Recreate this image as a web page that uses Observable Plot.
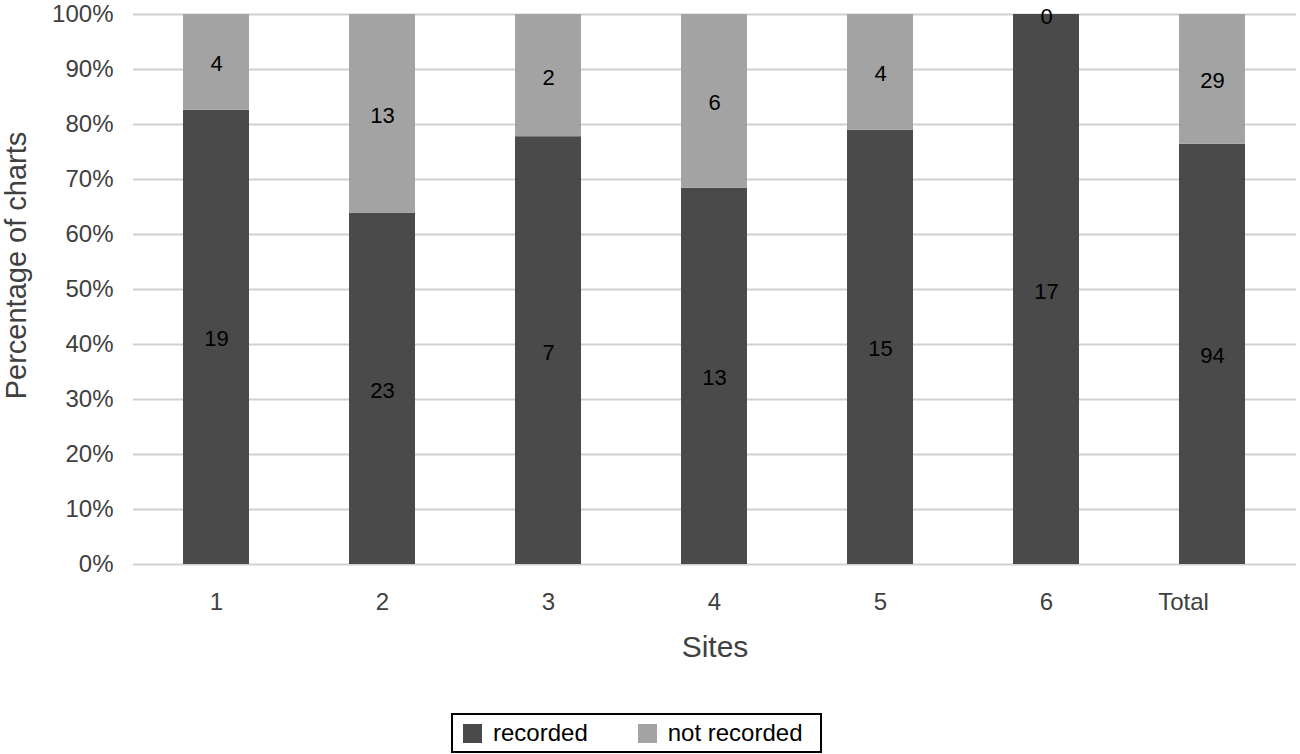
<!DOCTYPE html>
<html><head><meta charset="utf-8">
<script src="https://cdn.jsdelivr.net/npm/d3@7"></script>
<script src="https://cdn.jsdelivr.net/npm/@observablehq/plot@0.6"></script>
<style>
body{margin:0;background:#fff;font-family:"Liberation Sans",Arial,Helvetica,sans-serif;}
#wrap{position:relative;width:1300px;height:754px;overflow:hidden;}
#legend{position:absolute;left:451px;top:713px;width:367px;height:36px;border:2px solid #000;display:flex;align-items:center;font-size:24px;color:#000;}
.item{display:flex;align-items:center;}
.sw{width:19px;height:19px;display:inline-block;}
</style>
</head><body>
<div id="wrap"><div id="chart"></div><div id="legend"></div></div>
<script>
const sites = ["1","2","3","4","5","6","Total"];
const recorded = [19,23,7,13,15,17,94];
const notRecorded = [4,13,2,6,4,0,29];
const statuses = ["recorded","not recorded"];
const colors = ["#4a4a4a","#a3a3a3"];
const yTicks = [0,0.1,0.2,0.3,0.4,0.5,0.6,0.7,0.8,0.9,1];

const data = [];
sites.forEach((s,i)=>{
  data.push({site:s,status:statuses[0],count:recorded[i]});
  data.push({site:s,status:statuses[1],count:notRecorded[i]});
});

const font = '"Liberation Sans",Arial,Helvetica,sans-serif';
const chart = Plot.plot({
  width:1300, height:700,
  marginLeft:133, marginRight:4, marginTop:14, marginBottom:136,
  style:{fontFamily:font, fontSize:"24px", color:"#404040", background:"transparent"},
  x:{domain:sites, paddingInner:0.6, paddingOuter:0.3, label:null, axis:null},
  y:{domain:[0,1], ticks:yTicks, tickFormat:d3.format(".0%"), tickSize:0, tickPadding:20, label:null},
  color:{domain:statuses, range:colors},
  marks:[
    Plot.ruleY(yTicks,{stroke:"#d0d0d0", strokeWidth:2}),
    Plot.barY(data, Plot.stackY({x:"site", y:"count", fill:"status", offset:"normalize"})),
    Plot.text(data, Plot.stackY({x:"site", y:"count", text:d=>String(d.count), offset:"normalize", fill:"#000", fontSize:22, dy:2})),
    Plot.axisX({ticks:sites.slice(0,6), tickSize:0, tickPadding:28, label:null, fontSize:24}),
    Plot.axisX({ticks:sites.slice(6), tickSize:0, tickPadding:28, label:null, fontSize:24, dx:-29}),
    Plot.text(["Sites"], {frameAnchor:"bottom", dy:92, fontSize:30, fill:"#404040"}),
    Plot.text(["Percentage of charts"], {frameAnchor:"left", textAnchor:"middle", rotate:-90, dx:-117, dy:-24, fontSize:29, fill:"#404040"})
  ]
});
document.getElementById("chart").appendChild(chart);

const legend = document.getElementById("legend");
statuses.forEach((s,i)=>{
  const it = document.createElement("div");
  it.className="item";
  it.style.marginLeft = i===0 ? "10px" : "50px";
  const sw = document.createElement("span");
  sw.className="sw"; sw.style.background = colors[i];
  const t = document.createElement("span");
  t.textContent = s; t.style.marginLeft="11px";
  it.appendChild(sw); it.appendChild(t);
  legend.appendChild(it);
});
</script>
</body></html>
